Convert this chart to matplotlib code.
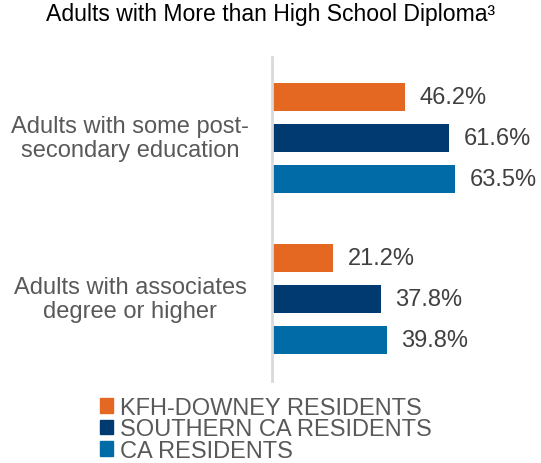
import matplotlib.pyplot as plt
from matplotlib.patches import Patch

plt.rcParams['font.family'] = ['Liberation Sans', 'DejaVu Sans']

categories = ["Adults with some post-\nsecondary education", "Adults with associates\ndegree or higher"]
series = ["KFH-DOWNEY RESIDENTS", "SOUTHERN CA RESIDENTS", "CA RESIDENTS"]
kfh = [46.2, 21.2]
socal = [61.6, 37.8]
ca = [63.5, 39.8]
colors = ['#e46822', '#003a70', '#006ba6']

fig = plt.figure(figsize=(5.41, 4.64), dpi=100)
ax = fig.add_axes([272/541, 82/464, 1 - 272/541, 324/464])

vals = [kfh, socal, ca]
for g in range(len(categories)):
    for s in range(3):
        y = g*3.93 + s
        v = vals[s][g]
        ax.barh(y, v, height=0.69, color=colors[s])
        ax.text(v + 5.0, y, "%.1f%%" % v, va='center', ha='left', fontsize=17, color='#404040')
    ax.text(-49.3, g*3.93 + 1, categories[g], ha='center', va='center', fontsize=17,
            color='#595959', linespacing=1.12)

ax.set_xlim(0, 269/2.88)
ax.set_xticks([])
ax.set_yticks([])
for sp in ['top', 'right', 'bottom']:
    ax.spines[sp].set_visible(False)
ax.spines['left'].set_color('#d9d9d9')
ax.spines['left'].set_linewidth(2)
ax.set_ylim(6.93, -0.98)

fig.text(0.5, 1 - 15/464, "Adults with More than High School Diploma\u00b3", ha='center', va='center',
         fontsize=16.6, color='black')

handles = [Patch(color=c) for c in colors]
fig.legend(handles, series, loc='upper left', bbox_to_anchor=(88/541, 1 - 386/464), frameon=False,
           fontsize=17, labelcolor='#595959', handlelength=0.55, handleheight=0.55,
           handletextpad=0.3, labelspacing=-0.02, borderpad=0)

fig.savefig('out.png', dpi=100)
